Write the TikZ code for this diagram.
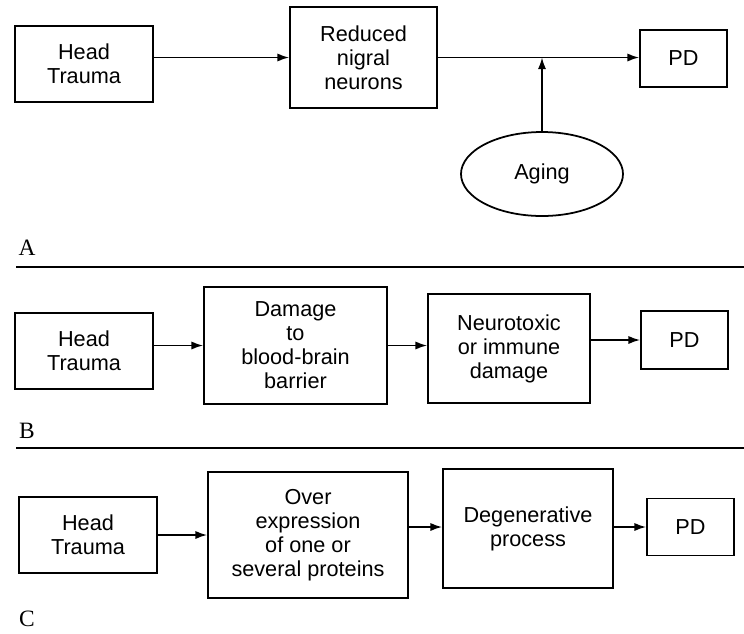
\documentclass[tikz,border=0pt]{standalone}
\usepackage{fontspec}
\setmainfont{Liberation Sans}
\newfontfamily\panelfont{Liberation Serif}
\usetikzlibrary{arrows.meta,shapes.geometric}

\begin{document}
\begin{tikzpicture}[x=0.03cm,y=-0.03cm,
        box/.style={rectangle,draw=black,line width=1.5pt,inner sep=0pt,align=center,
                    font=\fontsize{18.5}{20.5}\selectfont},
        oval/.style={ellipse,draw=black,line width=1.5pt,inner sep=0pt,
                    font=\fontsize{18.5}{20.5}\selectfont},
        arr/.style={-{Latex[length=10pt,width=7pt]},line width=1.4pt},
        sep/.style={line width=2pt},
        panlab/.style={font=\panelfont\fontsize{20}{22}\selectfont}]

      \useasboundingbox (0,0) rectangle (744,633);

      % panel A
      \node[box,minimum width=4.14cm,minimum height=2.28cm] (headA) at (84,64)      {Head\\Trauma};
      \node[box,minimum width=4.41cm,minimum height=3.03cm] (redA)  at (363.5,57.5) {Reduced\\nigral\\neurons};
      \node[box,minimum width=2.61cm,minimum height=1.71cm] (pdA)   at (683.5,58.5) {PD};
      \node[oval,minimum width=4.86cm,minimum height=2.52cm] (aging) at (542,174)   {Aging};

      \draw[arr] (redA.west -| headA.east) -- (redA.west);
      \draw[arr] (redA.east) -- (redA.east -| pdA.west);
      \draw[arr] (aging.north) -- (aging.north |- redA.east);

      \node[panlab] (labA) at (27,248) {A};
      \draw[sep] (16,267) -- (744,267);

      % panel B
      \node[box,minimum width=4.14cm,minimum height=2.28cm] (headB) at (84,351)      {Head\\Trauma};
      \node[box,minimum width=5.49cm,minimum height=3.51cm] (dmgB)  at (295.5,345.5) {Damage\\to\\blood-brain\\barrier};
      \node[box,minimum width=4.86cm,minimum height=3.27cm] (neuB)  at (509,348.5)   {Neurotoxic\\or immune\\damage};
      \node[box,minimum width=2.61cm,minimum height=1.74cm] (pdB)   at (684.5,340)   {PD};

      \draw[arr] (dmgB.west -| headB.east) -- (dmgB.west);
      \draw[arr] (dmgB.east) -- (dmgB.east -| neuB.west);
      \draw[arr] (pdB.west -| neuB.east) -- (pdB.west);

      \node[panlab] (labB) at (27,431) {B};
      \draw[sep] (16,448) -- (744,448);

      % panel C
      \node[box,minimum width=4.14cm,minimum height=2.28cm] (headC) at (88,535)      {Head\\Trauma};
      \node[box,minimum width=6.00cm,minimum height=3.78cm] (ovrC)  at (308,535)     {Over\\expression\\of one or\\several proteins};
      \node[box,minimum width=5.10cm,minimum height=3.57cm] (degC)  at (528,528.5)   {Degenerative\\process};
      \node[box,minimum width=2.61cm,minimum height=1.71cm] (pdC)   at (690.5,527)   {PD};

      \draw[arr] (headC.east) -- (headC.east -| ovrC.west);
      \draw[arr] (ovrC.east |- pdC.west) -- (degC.west |- pdC.west);
      \draw[arr] (degC.east |- pdC.west) -- (pdC.west);

      \node[panlab] (labC) at (27,619) {C};
\end{tikzpicture}
\end{document}
